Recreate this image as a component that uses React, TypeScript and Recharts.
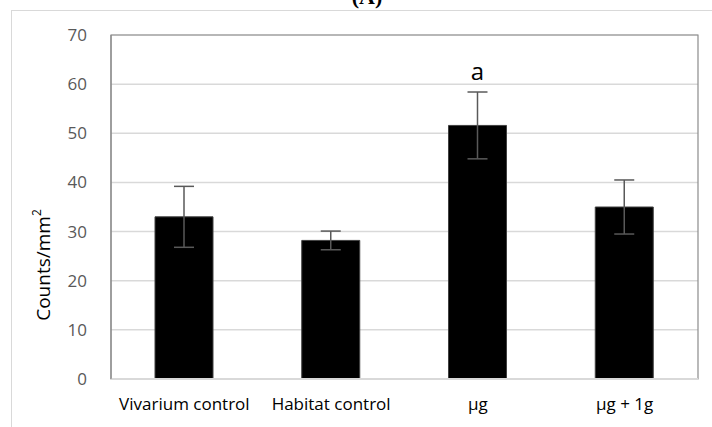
import React from 'react';
import { BarChart, Bar, XAxis, YAxis, CartesianGrid, ErrorBar, LabelList, ReferenceArea } from 'recharts';

// valores (contagens por mm²)
const categories = ['Vivarium control', 'Habitat control', 'µg', 'µg + 1g'];
const means = [33.0, 28.2, 51.6, 35.0];
const errors = [6.2, 1.9, 6.8, 5.5];
const marks = ['', '', 'a', ''];
const yTicks = [0, 10, 20, 30, 40, 50, 60, 70];

const data = categories.map((name, i) => ({
  name,
  mean: means[i],
  err: errors[i],
  mark: marks[i],
}));

const FONT = '"Open Sans", "Liberation Sans", sans-serif';

// label rotacionado do eixo Y com expoente
const YLabel = () => (
  <text
    x={43}
    y={265}
    transform="rotate(-90 43 265)"
    textAnchor="middle"
    dominantBaseline="central"
    fontFamily={FONT}
    fontSize={19}
    fill="#000"
  >
    Counts/mm<tspan dy={-7} fontSize={12}>2</tspan>
  </text>
);

export default function App() {
  return (
    <div style={{ position: 'absolute', left: 0, top: 0, width: 712, height: 427, overflow: 'hidden', background: '#fff' }}>
      {/* borda externa da área do gráfico */}
      <div style={{ position: 'absolute', left: 11, top: 10, width: 760, height: 460, border: '1px solid #d9d9d9' }} />
      {/* título cortado no topo */}
      <div
        style={{
          position: 'absolute',
          left: 0,
          width: 734,
          top: -15,
          textAlign: 'center',
          fontFamily: '"Liberation Serif", "Times New Roman", serif',
          fontWeight: 'bold',
          fontSize: 22,
          lineHeight: '24px',
        }}
      >
        (A)
      </div>
      <BarChart
        width={712}
        height={427}
        data={data}
        margin={{ top: 35, right: 14, left: 0, bottom: 0 }}
        style={{ position: 'absolute', left: 0, top: 0 }}
      >
        <CartesianGrid horizontal vertical={false} stroke="#d9d9d9" strokeWidth={1.5} />
        <ReferenceArea y1={0} y2={70} fill="none" stroke="#8c8c8c" strokeWidth={1.2} ifOverflow="visible" />
        <XAxis
          dataKey="name"
          height={48}
          axisLine={{ stroke: '#d9d9d9', strokeWidth: 2 }}
          tickLine={false}
          tick={{ fontFamily: FONT, fontSize: 17, fill: '#000' }}
          tickMargin={13}
          interval={0}
        />
        <YAxis
          width={111}
          domain={[0, 70]}
          ticks={yTicks}
          axisLine={{ stroke: '#8c8c8c', strokeWidth: 1.2 }}
          tickLine={false}
          tick={{ fontFamily: FONT, fontSize: 17, fill: '#595959' }}
          tickMargin={18}
          label={<YLabel />}
        />
        <Bar dataKey="mean" fill="#000" stroke="#404040" strokeWidth={1} barSize={58} isAnimationActive={false}>
          <ErrorBar dataKey="err" width={10} stroke="#595959" strokeWidth={1.5} />
          <LabelList dataKey="mark" position="top" offset={45} fontFamily={FONT} fontSize={24} fill="#000" />
        </Bar>
      </BarChart>
    </div>
  );
}
